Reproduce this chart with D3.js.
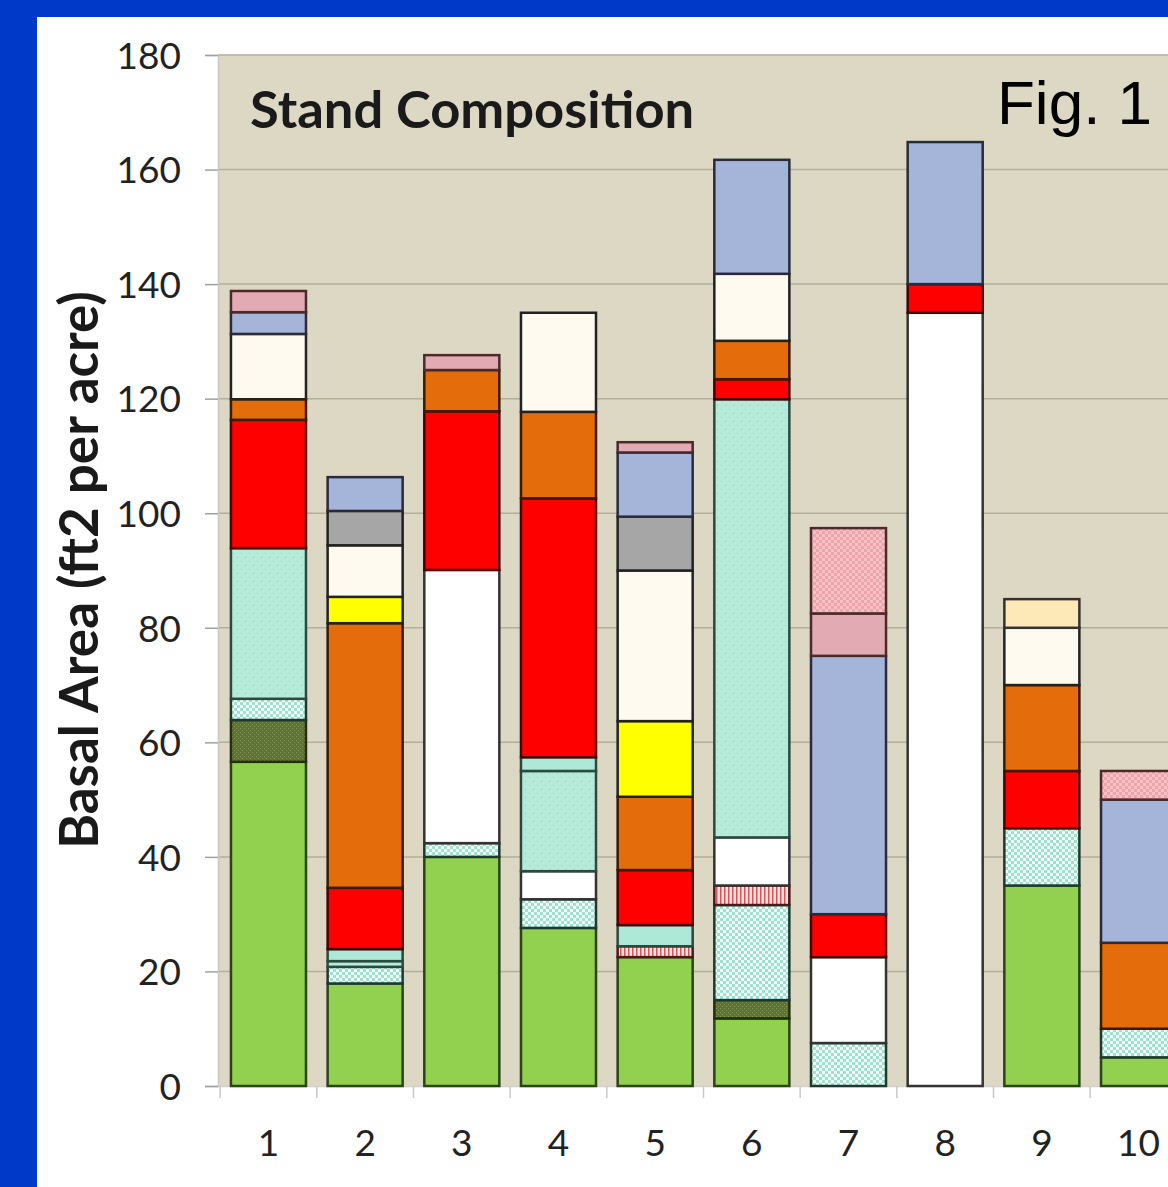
<!DOCTYPE html>
<html>
<head>
<meta charset="utf-8">
<script src="https://cdn.jsdelivr.net/npm/d3@7"></script>
<style>
  html, body { margin: 0; padding: 0; background: #0038c8; overflow: hidden; }
  #chart { width: 1168px; height: 1187px; }
</style>
</head>
<body>
<div id="chart"></div>
<script>
// Stands (x categories)
const stands = ['1', '2', '3', '4', '5', '6', '7', '8', '9', '10'];

// Stack order, bottom to top
const speciesKeys = ['green', 'olive', 'checker', 'pinkStripe', 'white', 'mintDot', 'mintSolid',
  'red', 'orange', 'yellow', 'cream', 'gray', 'blue', 'pink', 'pinkCheck', 'wheat'];

// Basal area of each species per stand (ft2 per acre)
const green      = [56.6, 17.9, 40.0, 27.6, 22.5, 11.8,  0,    0,   35, 5];
const olive      = [ 7.3,  0,    0,    0,    0,    3.2,  0,    0,    0, 0];
const checker    = [ 3.7,  2.9,  2.4,  5.0,  0,   16.6,  7.5,  0,   10, 5];
const pinkStripe = [ 0,    0,    0,    0,    1.9,  3.4,  0,    0,    0, 0];
const white      = [ 0,    0,   47.7,  4.9,  0,    8.4, 15.0, 135.0, 0, 0];
const mintDot    = [26.3,  1.0,  0,   17.5,  0,   76.5,  0,    0,    0, 0];
const mintSolid  = [ 0,    2.1,  0,    2.4,  3.7,  0,    0,    0,    0, 0];
const red        = [22.4, 10.7, 27.7, 45.2,  9.6,  3.5,  7.5,  5.0, 10, 0];
const orange     = [ 3.6, 46.2,  7.2, 15.1, 12.8,  6.7,  0,    0,   15, 15];
const yellow     = [ 0,    4.6,  0,    0,   13.2,  0,    0,    0,    0, 0];
const cream      = [11.4,  9.0,  0,   17.3, 26.3, 11.7,  0,    0,   10, 0];
const gray       = [ 0,    6.0,  0,    0,    9.4,  0,    0,    0,    0, 0];
const blue       = [ 3.8,  5.9,  0,    0,   11.2, 19.9, 45.1, 24.8,  0, 25];
const pink       = [ 3.7,  0,    2.6,  0,    1.8,  0,    7.4,  0,    0, 0];
const pinkCheck  = [ 0,    0,    0,    0,    0,    0,   14.9,  0,    0, 5];
const wheat      = [ 0,    0,    0,    0,    0,    0,    0,    0,    5, 0];

const yTicks = [0, 20, 40, 60, 80, 100, 120, 140, 160, 180];

const seriesValues = { green, olive, checker, pinkStripe, white, mintDot, mintSolid,
  red, orange, yellow, cream, gray, blue, pink, pinkCheck, wheat };

const tableRows = stands.map((s, i) => {
  const row = { stand: s };
  speciesKeys.forEach(k => { row[k] = seriesValues[k][i]; });
  return row;
});

// fills (some are pattern ids), and outline colours
const fills = {
  green: '#92d050', olive: 'url(#p-olive)', checker: 'url(#p-checker)', pinkStripe: 'url(#p-stripe)',
  white: '#ffffff', mintDot: 'url(#p-mintdot)', mintSolid: '#aee8d6', red: '#ff0000',
  orange: '#e46c0a', yellow: '#ffff00', cream: '#fffaf0', gray: '#a6a6a6', blue: '#a5b5da',
  pink: '#e2aab2', pinkCheck: 'url(#p-pinkcheck)', wheat: '#fde9b8'
};
const strokes = {
  green: '#2a4418', olive: '#23300f', checker: '#1e3a30', pinkStripe: '#4a1a1a', white: '#333',
  mintDot: '#2a4a40', mintSolid: '#2a4a40', red: '#4a0000', orange: '#3a1a00', yellow: '#222',
  cream: '#222', gray: '#222', blue: '#2a2a3a', pink: '#4a2a2a', pinkCheck: '#4a2a2a', wheat: '#333'
};

const W = 1168, H = 1187;
const svg = d3.select('#chart').append('svg').attr('width', W).attr('height', H);

// pattern defs
const defs = svg.append('defs');
const olivePat = defs.append('pattern').attr('id', 'p-olive').attr('patternUnits', 'userSpaceOnUse')
  .attr('width', 4).attr('height', 4);
olivePat.append('rect').attr('width', 4).attr('height', 4).attr('fill', '#5e7235');
olivePat.append('rect').attr('x', 0).attr('y', 0).attr('width', 1).attr('height', 1).attr('fill', '#8a9c5c');
olivePat.append('rect').attr('x', 2).attr('y', 2).attr('width', 1).attr('height', 1).attr('fill', '#8a9c5c');

const chkPat = defs.append('pattern').attr('id', 'p-checker').attr('patternUnits', 'userSpaceOnUse')
  .attr('width', 6).attr('height', 6);
chkPat.append('rect').attr('width', 6).attr('height', 6).attr('fill', '#f4fffb');
chkPat.append('rect').attr('x', 0).attr('y', 0).attr('width', 3).attr('height', 3).attr('fill', '#9fe2cc');
chkPat.append('rect').attr('x', 3).attr('y', 3).attr('width', 3).attr('height', 3).attr('fill', '#9fe2cc');

const stripePat = defs.append('pattern').attr('id', 'p-stripe').attr('patternUnits', 'userSpaceOnUse')
  .attr('width', 4).attr('height', 4);
stripePat.append('rect').attr('width', 4).attr('height', 4).attr('fill', '#ffe4e4');
stripePat.append('rect').attr('x', 0).attr('width', 1.5).attr('height', 4).attr('fill', '#e05050');

const mintPat = defs.append('pattern').attr('id', 'p-mintdot').attr('patternUnits', 'userSpaceOnUse')
  .attr('width', 8).attr('height', 8);
mintPat.append('rect').attr('width', 8).attr('height', 8).attr('fill', '#b6ead9');
mintPat.append('rect').attr('x', 1).attr('y', 1).attr('width', 1).attr('height', 1).attr('fill', '#8fcdb9');
mintPat.append('rect').attr('x', 5).attr('y', 5).attr('width', 1).attr('height', 1).attr('fill', '#8fcdb9');

const pchkPat = defs.append('pattern').attr('id', 'p-pinkcheck').attr('patternUnits', 'userSpaceOnUse')
  .attr('width', 6).attr('height', 6);
pchkPat.append('rect').attr('width', 6).attr('height', 6).attr('fill', '#eea2aa');
pchkPat.append('rect').attr('x', 0).attr('y', 0).attr('width', 3).attr('height', 3).attr('fill', '#f6c2c6');
pchkPat.append('rect').attr('x', 3).attr('y', 3).attr('width', 3).attr('height', 3).attr('fill', '#f6c2c6');

// white slide panel inside blue frame
svg.append('rect').attr('x', 37).attr('y', 17).attr('width', W - 37).attr('height', H - 17)
  .attr('fill', '#ffffff');

const plot = { left: 218, top: 55, bottom: 1086, right: 1189 };

const y = d3.scaleLinear().domain([0, 180]).range([plot.bottom, plot.top]);
const x = d3.scaleBand().domain(stands).range([plot.left, plot.right])
  .paddingInner(0.224).paddingOuter(0.134);

// plot background
svg.append('rect').attr('x', plot.left).attr('y', plot.top)
  .attr('width', plot.right - plot.left).attr('height', plot.bottom - plot.top)
  .attr('fill', '#ddd8c3');

// gridlines
svg.append('g').selectAll('line').data(yTicks.filter(d => d > 0)).join('line')
  .attr('x1', plot.left).attr('x2', plot.right)
  .attr('y1', d => y(d)).attr('y2', d => y(d))
  .attr('stroke', '#b3ae9b').attr('stroke-width', 1.5);

// y axis
const yAxis = svg.append('g').attr('transform', `translate(${plot.left},0)`)
  .call(d3.axisLeft(y).tickValues(yTicks).tickSize(13).tickPadding(24));
yAxis.select('.domain').attr('stroke', '#c8c8c8').attr('stroke-width', 1.5);
yAxis.selectAll('.tick line').attr('stroke', '#a0a0a0').attr('stroke-width', 1.5);
yAxis.selectAll('.tick text').attr('font-family', 'Lato, sans-serif').attr('font-size', 37)
  .attr('fill', '#222').attr('dy', '0.36em');

// x axis
const xAxis = svg.append('g').attr('transform', `translate(0,${plot.bottom})`)
  .call(d3.axisBottom(x).tickSize(0).tickPadding(44));
xAxis.select('.domain').attr('stroke', '#d0d0d0').attr('stroke-width', 1.5);
xAxis.selectAll('.tick text').attr('font-family', 'Lato, sans-serif').attr('font-size', 37)
  .attr('fill', '#222');
// category boundary ticks
const gap = x.step() - x.bandwidth();
svg.append('g').selectAll('line').data(stands).join('line')
  .attr('x1', d => x(d) - gap / 2).attr('x2', d => x(d) - gap / 2)
  .attr('y1', plot.bottom).attr('y2', plot.bottom + 12)
  .attr('stroke', '#c8c8c8').attr('stroke-width', 1.5);

// stacked bars
const stacked = d3.stack().keys(speciesKeys)(tableRows);
svg.append('g').selectAll('g').data(stacked).join('g')
  .attr('fill', d => fills[d.key]).attr('stroke', d => strokes[d.key])
  .selectAll('rect').data(d => d.filter(s => s[1] - s[0] > 0)).join('rect')
  .attr('x', d => x(d.data.stand))
  .attr('width', x.bandwidth())
  .attr('y', d => y(d[1]))
  .attr('height', d => y(d[0]) - y(d[1]))
  .attr('stroke-width', 2.5);

// titles
svg.append('text').attr('x', 250).attr('y', 128)
  .attr('font-family', 'Lato, sans-serif').attr('font-weight', 700).attr('font-size', 52.5)
  .attr('fill', '#1a1a1a').text('Stand Composition');

svg.append('text').attr('x', 997).attr('y', 124)
  .attr('font-family', 'Liberation Sans, Arial, sans-serif').attr('font-size', 62)
  .attr('fill', '#000').text('Fig. 1');

svg.append('text').attr('transform', 'translate(98,570) rotate(-90)')
  .attr('text-anchor', 'middle')
  .attr('font-family', 'Lato, sans-serif').attr('font-weight', 700).attr('font-size', 53)
  .attr('fill', '#1a1a1a').text('Basal Area (ft2 per acre)');
</script>
</body>
</html>
